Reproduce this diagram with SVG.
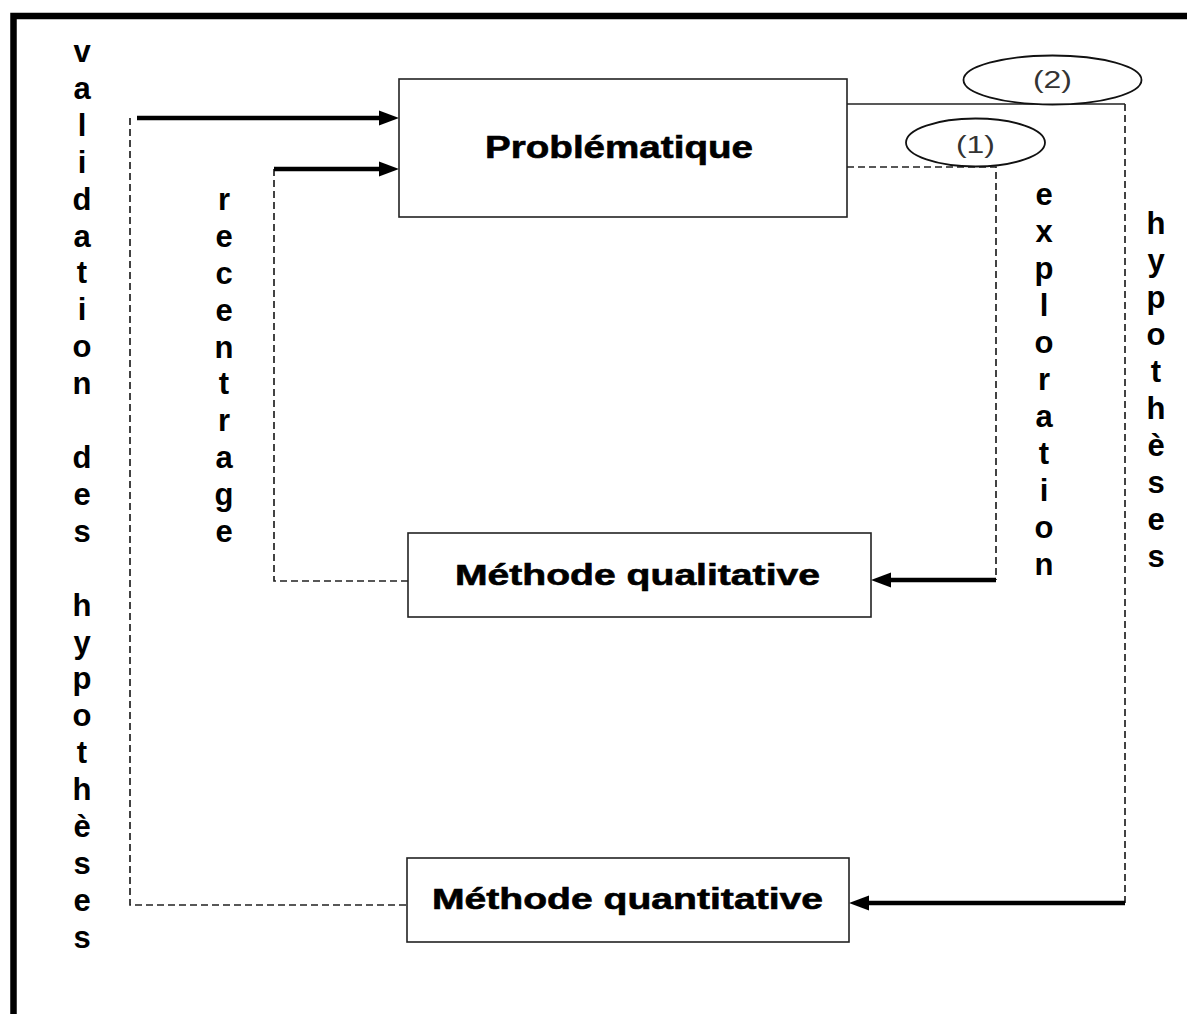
<svg xmlns="http://www.w3.org/2000/svg" width="1187" height="1014" viewBox="0 0 1187 1014">
<style>
.box{fill:#fff;stroke:#222;stroke-width:1.6}
.ell{fill:#fff;stroke:#111;stroke-width:1.8}
.lbl{font-family:"Liberation Sans",Arial,sans-serif;font-weight:bold;fill:#000;stroke:#000;stroke-width:0.6}
.num{font-family:"Liberation Sans",Arial,sans-serif;font-size:23px;fill:#333}
.vt{font-family:"Liberation Sans",Arial,sans-serif;font-weight:bold;font-size:31px;fill:#000;text-anchor:middle}
.dash{fill:none;stroke:#222;stroke-width:1.7;stroke-dasharray:7 4}
.solid{fill:none;stroke:#222;stroke-width:1.6}
.thick{fill:none;stroke:#000;stroke-width:4.5}
</style>
<defs>
<marker id="ah" markerUnits="userSpaceOnUse" markerWidth="22" markerHeight="18" refX="11" refY="9" orient="auto">
<path d="M0,1.5 L20,9 L0,16.5 Z" fill="#000"/>
</marker>
</defs>
<rect width="1187" height="1014" fill="#fff"/>
<g id="frame">
<path d="M13.5,1014 L13.5,16 L1187,16" fill="none" stroke="#000" stroke-width="6.5"/>
</g>
<g id="connectors">
<path class="dash" d="M130,118 L130,905 L407,905"/>
<path class="thick" d="M137,118 L390,118" marker-end="url(#ah)"/>
<path class="dash" d="M274,169 L274,581 L408,581"/>
<path class="thick" d="M274,169 L390,169" marker-end="url(#ah)"/>
<path class="dash" d="M847,167 L996,167 L996,580"/>
<path class="thick" d="M996,580 L880,580" marker-end="url(#ah)"/>
<path class="solid" d="M847,104 L1125,104"/>
<path class="dash" d="M1125,104 L1125,903"/>
<path class="thick" d="M1125,903 L858,903" marker-end="url(#ah)"/>
</g>
<g id="problematique">
<rect class="box" x="399" y="79" width="448" height="138"/>
<text class="lbl" x="485" y="158" font-size="31" textLength="268" lengthAdjust="spacingAndGlyphs">Problématique</text>
</g>
<g id="qualitative">
<rect class="box" x="408" y="533" width="463" height="84"/>
<text class="lbl" x="455" y="585" font-size="29" textLength="365" lengthAdjust="spacingAndGlyphs">Méthode qualitative</text>
</g>
<g id="quantitative">
<rect class="box" x="407" y="858" width="442" height="84"/>
<text class="lbl" x="432" y="909" font-size="29" textLength="391" lengthAdjust="spacingAndGlyphs">Méthode quantitative</text>
</g>
<g id="label1">
<ellipse class="ell" cx="975.5" cy="142.5" rx="69.5" ry="24"/>
<text class="num" x="956" y="153" textLength="39" lengthAdjust="spacingAndGlyphs">(1)</text>
</g>
<g id="label2">
<ellipse class="ell" cx="1052.5" cy="80" rx="89" ry="24.5"/>
<text class="num" x="1033" y="88" textLength="39" lengthAdjust="spacingAndGlyphs">(2)</text>
</g>
<g id="validation-text">
<text class="vt"><tspan x="82" y="62">v</tspan><tspan x="82" y="99">a</tspan><tspan x="82" y="136">l</tspan><tspan x="82" y="173">i</tspan><tspan x="82" y="210">d</tspan><tspan x="82" y="247">a</tspan><tspan x="82" y="283">t</tspan><tspan x="82" y="320">i</tspan><tspan x="82" y="357">o</tspan><tspan x="82" y="394">n</tspan><tspan x="82" y="468">d</tspan><tspan x="82" y="505">e</tspan><tspan x="82" y="542">s</tspan><tspan x="82" y="616">h</tspan><tspan x="82" y="653">y</tspan><tspan x="82" y="689">p</tspan><tspan x="82" y="726">o</tspan><tspan x="82" y="763">t</tspan><tspan x="82" y="800">h</tspan><tspan x="82" y="837">è</tspan><tspan x="82" y="874">s</tspan><tspan x="82" y="911">e</tspan><tspan x="82" y="948">s</tspan></text>
</g>
<g id="recentrage-text">
<text class="vt"><tspan x="224" y="210">r</tspan><tspan x="224" y="247">e</tspan><tspan x="224" y="284">c</tspan><tspan x="224" y="321">e</tspan><tspan x="224" y="358">n</tspan><tspan x="224" y="394">t</tspan><tspan x="224" y="431">r</tspan><tspan x="224" y="468">a</tspan><tspan x="224" y="505">g</tspan><tspan x="224" y="542">e</tspan></text>
</g>
<g id="exploration-text">
<text class="vt"><tspan x="1044" y="205">e</tspan><tspan x="1044" y="242">x</tspan><tspan x="1044" y="279">p</tspan><tspan x="1044" y="316">l</tspan><tspan x="1044" y="353">o</tspan><tspan x="1044" y="390">r</tspan><tspan x="1044" y="427">a</tspan><tspan x="1044" y="464">t</tspan><tspan x="1044" y="501">i</tspan><tspan x="1044" y="538">o</tspan><tspan x="1044" y="575">n</tspan></text>
</g>
<g id="hypotheses-text">
<text class="vt"><tspan x="1156" y="234">h</tspan><tspan x="1156" y="271">y</tspan><tspan x="1156" y="308">p</tspan><tspan x="1156" y="345">o</tspan><tspan x="1156" y="382">t</tspan><tspan x="1156" y="419">h</tspan><tspan x="1156" y="456">è</tspan><tspan x="1156" y="493">s</tspan><tspan x="1156" y="530">e</tspan><tspan x="1156" y="567">s</tspan></text>
</g>
</svg>
